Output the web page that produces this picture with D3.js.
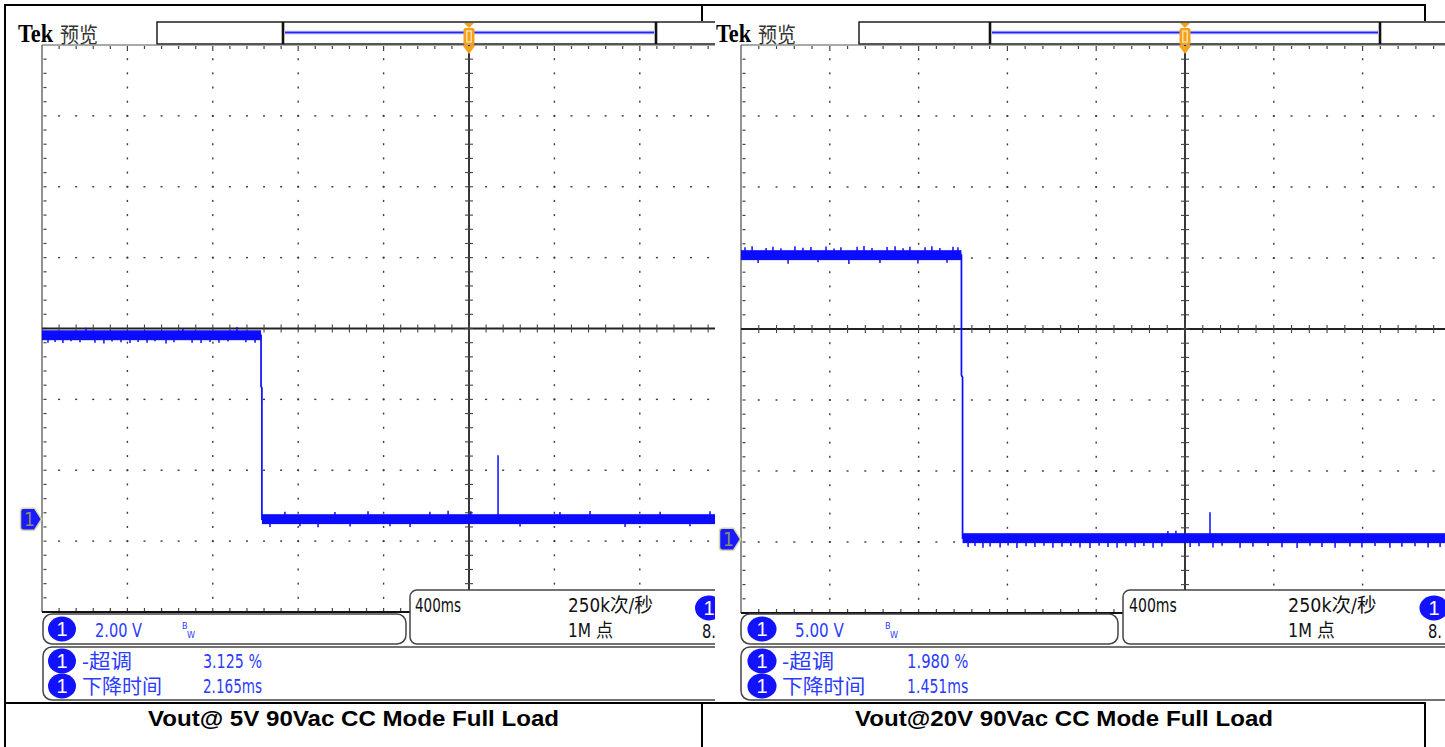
<!DOCTYPE html>
<html>
<head>
<meta charset="utf-8">
<script src="https://cdn.jsdelivr.net/npm/d3@7/dist/d3.min.js"></script>
<style>
  html, body { margin: 0; padding: 0; background: #fff; }
  svg { display: block; }
</style>
</head>
<body>
<svg id="chart" width="1445" height="747"></svg>
<script>
// ---- acquisition settings ----
const timePerDiv = 0.4;                  // 400 ms/div
const voltsPerDiv = [2.0, 5.0];          // CH1 scale for the 5 V and 20 V runs
const groundOffsetDiv = [-2.69, -2.96];  // CH1 position, divisions from screen centre
const rippleHalf = [0.14, 0.35];         // half-width of the noise band on the trace (V)

// ---- 5 V output: trace vertices (s, V) ----
const t5 = [-2.0, -0.974, -0.974, -0.970, -0.970, 2.0];
const v5 = [5.19, 5.19, 3.75, 3.70, 0.0, 0.0];
// 5 V output: noise spikes (s, peak V)
const g5t = [-1.972, -1.939, -1.902, -1.864, -1.822, -1.794, -1.752, -1.710, -1.672, -1.630,
             -1.588, -1.550, -1.508, -1.471, -1.419, -1.382, -1.340, -1.297, -1.255, -1.213,
             -1.171, -1.129, -1.087, -1.045, -1.002,
             -0.932, -0.862, -0.792, -0.707, -0.628, -0.557, -0.473, -0.370, -0.276, -0.183,
             -0.098, 0.009, 0.136, 0.239, 0.426, 0.567, 0.731, 0.895, 1.035, 1.129];
const g5v = [4.98, 5.00, 4.97, 5.02, 4.99, 5.40, 4.98, 4.96, 5.01, 4.99,
             4.97, 5.00, 4.98, 5.02, 4.96, 4.99, 5.38, 4.98, 4.97, 5.00,
             4.98, 5.01, 5.42, 4.99, 4.98,
             -0.22, 0.21, -0.20, -0.23, 0.20, -0.21, 0.22, -0.20, -0.22, 0.21,
             0.24, 0.22, 1.80, -0.21, 0.20, 0.23, -0.22, 0.21, -0.20, 0.22];

// ---- 20 V output: trace vertices (s, V) ----
const t20 = [-2.0, -1.007, -1.007, -1.002, -1.002, 2.0];
const v20 = [20.0, 20.0, 11.55, 11.40, 0.07, 0.07];
// 20 V output: noise spikes (s, peak V)
const g20t = [-1.982, -1.950, -1.923, -1.887, -1.856, -1.820, -1.788, -1.757, -1.721, -1.685,
              -1.653, -1.617, -1.581, -1.550, -1.514, -1.477, -1.446, -1.410, -1.374, -1.342,
              -1.306, -1.270, -1.239, -1.203, -1.171, -1.140, -1.104, -1.072, -1.045, -1.023,
              -0.977, -0.946, -0.910, -0.878, -0.833, -0.797, -0.757, -0.716, -0.676, -0.635,
              -0.595, -0.554, -0.514, -0.473, -0.428, -0.387, -0.347, -0.306, -0.266, -0.225,
              -0.185, -0.144, -0.104, -0.077, -0.041, 0.023, 0.063, 0.126, 0.167, 0.248,
              0.306, 0.374, 0.437, 0.505, 0.563, 0.617, 0.676, 0.743, 0.797, 0.856,
              0.923, 0.977, 1.036, 1.095, 1.149, 0.1126];
const g20v = [20.55, 20.62, 19.45, 20.50, 20.60, 20.48, 19.40, 20.63, 20.52, 20.58,
              19.50, 20.61, 20.47, 20.55, 19.38, 20.60, 20.64, 20.50, 19.45, 20.57,
              20.62, 20.49, 20.60, 19.42, 20.55, 20.63, 20.51, 19.47, 20.60, 20.56,
              -0.55, -0.48, -0.60, -0.52, -0.58, -0.45, -0.62, -0.50, -0.56, -0.47,
              -0.60, -0.53, -0.49, -0.58, -0.62, -0.46, -0.55, -0.60, -0.50, -0.57,
              -0.48, -0.61, -0.52, 0.57, 0.60, -0.55, -0.50, -0.58, -0.46, -0.60,
              -0.53, -0.49, -0.57, -0.62, -0.47, -0.55, -0.60, -0.51, -0.58, -0.48,
              -0.61, -0.54, -0.50, -0.59, -0.56, 1.90];

// ---- labels ----
const captions = ["Vout@ 5V 90Vac CC Mode Full Load", "Vout@20V 90Vac CC Mode Full Load"];
const scaleLabels = ["2.00 V", "5.00 V"];
const measNames = ["-超调", "下降时间"];
const measValues = [["3.125 %", "2.165ms"], ["1.980 %", "1.451ms"]];
const timeLabel = "400ms";
const rateLabel = "250k次/秒";
const recordLabel = "1M 点";

// ---- screen layout of the two captures ----
const layouts = [
  { clip: [7, 715], sx: 1.0, tekX: 18, hdrX: 157, seg: [283, 656],
    gridLeft: 42, divW: 85.4, gridTop: 45, gridBottom: 612,
    chBox: [43, 406], tbX: 410, circX: 62, scaleX: 95, bwX: 182,
    nameX: 82, valX: 203, tbTextX: 415, rateX: 568, tbCircX: 709, eightX: 702 },
  { clip: [715, 1445], sx: 1.04, tekX: 716, hdrX: 859, seg: [990, 1380],
    gridLeft: 741, divW: 88.8, gridTop: 45, gridBottom: 613,
    chBox: [741, 1118], tbX: 1123, circX: 762, scaleX: 795, bwX: 885,
    nameX: 782, valX: 907, tbTextX: 1129, rateX: 1288, tbCircX: 1434, eightX: 1428 }
];

const svg = d3.select("#chart");
const defs = svg.append("defs");
const UI_FONT = "'Liberation Sans Narrow','DejaVu Sans Condensed','Liberation Sans','Noto Sans CJK SC',sans-serif";
const CJK_FONT = "'Noto Sans CJK SC','Liberation Sans',sans-serif";
const TRACE = "#0c0cff";
const TXT_BLUE = "#2b3cff";
const ORANGE = "#f7a11a";

svg.append("rect").attr("width", 1445).attr("height", 747).attr("fill", "#fff");

function label(g, txt, x, y, size, width, opts = {}) {
  const t = g.append("text")
    .attr("x", x).attr("y", y)
    .attr("font-family", opts.family || UI_FONT)
    .attr("font-size", size)
    .attr("fill", opts.fill || "#111")
    .text(txt);
  if (opts.weight) t.attr("font-weight", opts.weight);
  if (opts.anchor) t.attr("text-anchor", opts.anchor);
  if (width) t.attr("textLength", width).attr("lengthAdjust", "spacingAndGlyphs");
  return t;
}

function badge(g, cx, cy, sx) {
  g.append("ellipse").attr("cx", cx).attr("cy", cy).attr("rx", 14 * sx).attr("ry", 12.5)
    .attr("fill", "#1212ff");
  label(g, "1", cx, cy + 7, 20, null, { fill: "#fff", anchor: "middle", family: "'Liberation Sans Narrow','Liberation Sans',sans-serif" });
}

function drawPanel(k, tArr, vArr, gT, gV) {
  const L = layouts[k];
  const sx = L.sx;
  defs.append("clipPath").attr("id", "img" + k)
    .append("rect").attr("x", L.clip[0]).attr("y", 21)
    .attr("width", L.clip[1] - L.clip[0]).attr("height", 681);
  const g = svg.append("g").attr("clip-path", `url(#img${k})`);
  g.append("rect").attr("x", L.clip[0]).attr("y", 21)
    .attr("width", L.clip[1] - L.clip[0]).attr("height", 681).attr("fill", "#fff");

  const gridRight = L.gridLeft + 10 * L.divW;
  const x = d3.scaleLinear().domain([-5 * timePerDiv, 5 * timePerDiv]).range([L.gridLeft, gridRight]);
  const vpd = voltsPerDiv[k], off = groundOffsetDiv[k];
  const y = d3.scaleLinear().domain([(-4 - off) * vpd, (4 - off) * vpd]).range([L.gridBottom, L.gridTop]);
  const dx = d3.scaleLinear().domain([0, 10]).range([L.gridLeft, gridRight]);
  const dy = d3.scaleLinear().domain([0, 8]).range([L.gridTop, L.gridBottom]);

  // ---- header: brand, record view and trigger position ----
  label(g, "Tek", L.tekX, 42, 26, 35, { family: "'Liberation Serif',serif", weight: "bold", fill: "#000" });
  label(g, "预览", L.tekX + 42, 42, 21, 38, { family: CJK_FONT, fill: "#333" });
  g.append("rect").attr("x", L.hdrX).attr("y", 22).attr("width", 1200).attr("height", 22)
    .attr("fill", "#fff").attr("stroke", "#111").attr("stroke-width", 1.4);
  g.append("line").attr("x1", L.seg[0] + 2).attr("x2", L.seg[1] - 2).attr("y1", 32.5).attr("y2", 32.5)
    .attr("stroke", "#a8a8ff").attr("stroke-width", 3.5);
  g.append("line").attr("x1", L.seg[0] + 2).attr("x2", L.seg[1] - 2).attr("y1", 32.5).attr("y2", 32.5)
    .attr("stroke", "#2424ff").attr("stroke-width", 1.6);
  L.seg.forEach(sxp => {
    g.append("line").attr("x1", sxp).attr("x2", sxp).attr("y1", 22).attr("y2", 44)
      .attr("stroke", "#111").attr("stroke-width", 2.6);
  });

  // ---- graticule ----
  const grid = g.append("g");
  grid.append("line").attr("x1", L.gridLeft).attr("x2", L.gridLeft).attr("y1", L.gridTop).attr("y2", L.gridBottom)
    .attr("stroke", "#777").attr("stroke-width", 1.6);
  grid.append("line").attr("x1", L.gridLeft).attr("x2", gridRight).attr("y1", L.gridTop).attr("y2", L.gridTop)
    .attr("stroke", "#555").attr("stroke-width", 1.2);
  grid.append("line").attr("x1", L.gridLeft).attr("x2", gridRight).attr("y1", L.gridBottom).attr("y2", L.gridBottom)
    .attr("stroke", "#111").attr("stroke-width", 2.2);
  const hMinor = d3.range(1, 50).map(i => i / 5);
  const vMinor = d3.range(1, 40).map(i => i / 5);
  hMinor.forEach(d => {
    grid.append("rect").attr("x", dx(d) - 0.6).attr("y", L.gridTop + 1).attr("width", 1.2).attr("height", d % 1 === 0 ? 5 : 3).attr("fill", "#444");
    grid.append("rect").attr("x", dx(d) - 0.6).attr("y", L.gridBottom - 4).attr("width", 1.2).attr("height", 3).attr("fill", "#444");
  });
  vMinor.forEach(d => {
    grid.append("rect").attr("x", L.gridLeft + 1.5).attr("y", dy(d) - 0.6).attr("width", 3).attr("height", 1.2).attr("fill", "#444");
  });
  // dotted division lines
  d3.range(1, 10).filter(i => i !== 5).forEach(i => {
    vMinor.forEach(d => {
      grid.append("rect").attr("x", dx(i) - 0.7).attr("y", dy(d) - 1).attr("width", 1.4).attr("height", 2).attr("fill", "#3a3a3a");
    });
  });
  d3.range(1, 8).filter(j => j !== 4).forEach(j => {
    hMinor.forEach(d => {
      grid.append("rect").attr("x", dx(d) - 1).attr("y", dy(j) - 0.7).attr("width", 2).attr("height", 1.4).attr("fill", "#3a3a3a");
    });
  });
  // centre cross with minor ticks
  grid.append("line").attr("x1", L.gridLeft).attr("x2", gridRight).attr("y1", dy(4)).attr("y2", dy(4))
    .attr("stroke", "#222").attr("stroke-width", 1.8);
  grid.append("line").attr("x1", dx(5)).attr("x2", dx(5)).attr("y1", L.gridTop).attr("y2", L.gridBottom)
    .attr("stroke", "#222").attr("stroke-width", 1.8);
  hMinor.forEach(d => {
    grid.append("line").attr("x1", dx(d)).attr("x2", dx(d)).attr("y1", dy(4) - 4).attr("y2", dy(4) + 4)
      .attr("stroke", "#444").attr("stroke-width", 1.1);
  });
  vMinor.forEach(d => {
    grid.append("line").attr("x1", dx(5) - 4).attr("x2", dx(5) + 4).attr("y1", dy(d)).attr("y2", dy(d))
      .attr("stroke", "#444").attr("stroke-width", 1.1);
  });

  // trigger marker
  const cx = x(0);
  g.append("path").attr("d", `M${cx - 5},23 L${cx + 5},23 L${cx},28 Z`).attr("fill", ORANGE);
  g.append("rect").attr("x", cx - 5.5).attr("y", 28).attr("width", 11).attr("height", 17).attr("rx", 2).attr("fill", ORANGE);
  g.append("rect").attr("x", cx - 2.2).attr("y", 31).attr("width", 4.4).attr("height", 11)
    .attr("fill", "none").attr("stroke", "#fff2d8").attr("stroke-width", 1.1);
  g.append("path").attr("d", `M${cx - 6},46 L${cx + 6},46 L${cx},54 Z`).attr("fill", ORANGE);

  // ---- waveform ----
  defs.append("clipPath").attr("id", "grid" + k)
    .append("rect").attr("x", L.gridLeft).attr("y", L.gridTop)
    .attr("width", gridRight - L.gridLeft).attr("height", L.gridBottom - L.gridTop);
  const wave = g.append("g").attr("clip-path", `url(#grid${k})`);
  const r = rippleHalf[k];
  // noise band on every flat stretch of the trace
  d3.range(tArr.length - 1).forEach(i => {
    if (vArr[i] === vArr[i + 1] && tArr[i + 1] > tArr[i]) {
      wave.append("rect")
        .attr("x", x(tArr[i])).attr("y", y(vArr[i] + r))
        .attr("width", x(tArr[i + 1]) - x(tArr[i])).attr("height", y(vArr[i] - r) - y(vArr[i] + r))
        .attr("fill", TRACE);
    }
  });
  const pts = tArr.map((t, i) => [t, vArr[i]]);
  wave.append("path")
    .attr("d", d3.line().x(d => x(d[0])).y(d => y(d[1]))(pts))
    .attr("fill", "none").attr("stroke", TRACE).attr("stroke-width", 1.7);
  gT.forEach((t, j) => {
    const base = vArr[d3.bisectRight(tArr, t) - 1];
    wave.append("line")
      .attr("x1", x(t)).attr("x2", x(t))
      .attr("y1", y(base)).attr("y2", y(gV[j]))
      .attr("stroke", TRACE).attr("stroke-width", 1.5);
  });

  // ground reference marker
  const tx = L.gridLeft - 0.5, ty = y(0);
  g.append("path")
    .attr("d", `M${tx},${ty} L${tx - 7},${ty - 11} L${tx - 18},${ty - 11} Q${tx - 21},${ty - 11} ${tx - 21},${ty - 8} L${tx - 21},${ty + 8} Q${tx - 21},${ty + 11} ${tx - 18},${ty + 11} L${tx - 7},${ty + 11} Z`)
    .attr("fill", "#1a1aff").attr("stroke", "#d8d8a4").attr("stroke-width", 1.5);
  label(g, "1", tx - 12, ty + 7, 19, null, { fill: "#8c8c70", anchor: "middle" });

  // ---- horizontal / acquisition readout ----
  g.append("rect").attr("x", L.tbX).attr("y", 590).attr("width", 900).attr("height", 54).attr("rx", 7)
    .attr("fill", "#fff").attr("stroke", "#444").attr("stroke-width", 1.5);
  label(g, timeLabel, L.tbTextX, 612, 19, 46 * sx);
  label(g, rateLabel, L.rateX, 612, 19, 85 * sx);
  label(g, recordLabel, L.rateX, 637, 19, 45 * sx);
  badge(g, L.tbCircX, 608, sx);
  label(g, "8.", L.eightX, 638, 19, 14);

  // ---- channel readout ----
  g.append("rect").attr("x", L.chBox[0]).attr("y", 614).attr("width", L.chBox[1] - L.chBox[0]).attr("height", 30).attr("rx", 9)
    .attr("fill", "#fff").attr("stroke", "#444").attr("stroke-width", 1.5);
  badge(g, L.circX, 629, sx);
  label(g, scaleLabels[k], L.scaleX, 637, 20, 47 * sx, { fill: TXT_BLUE });
  label(g, "B", L.bwX, 629, 9, null, { fill: TXT_BLUE });
  label(g, "W", L.bwX + 5, 638, 9, null, { fill: TXT_BLUE });

  // ---- measurement readout ----
  g.append("rect").attr("x", L.chBox[0]).attr("y", 647).attr("width", 1000).attr("height", 53).attr("rx", 9)
    .attr("fill", "#fff").attr("stroke", "#444").attr("stroke-width", 1.5);
  [661, 686].forEach((cy, i) => {
    badge(g, L.circX, cy, sx);
    label(g, measNames[i], L.nameX, cy + 8, 20, (i === 0 ? 50 : 80) * sx, { fill: TXT_BLUE });
    label(g, measValues[k][i], L.valX, cy + 7, 20, 59 * sx, { fill: TXT_BLUE });
  });
}

drawPanel(0, t5, v5, g5t, g5v);
drawPanel(1, t20, v20, g20t, g20v);

// ---- document table and captions ----
const tbl = svg.append("g").attr("stroke", "#000").attr("stroke-width", 2);
tbl.append("line").attr("x1", 5).attr("x2", 1426).attr("y1", 5).attr("y2", 5);
tbl.append("line").attr("x1", 5).attr("x2", 5).attr("y1", 4).attr("y2", 747);
[[702, 5, 21], [1425, 5, 21], [702, 703, 747], [1425, 703, 747]].forEach(([lx, a, b]) => {
  tbl.append("line").attr("x1", lx).attr("x2", lx).attr("y1", a).attr("y2", b);
});
tbl.append("line").attr("x1", 5).attr("x2", 1426).attr("y1", 703).attr("y2", 703);

[[353.5, 411], [1064, 418]].forEach(([cxp, w], i) => {
  label(svg, captions[i], cxp, 726, 22, w,
    { family: "'Liberation Sans',Arial,sans-serif", weight: "bold", fill: "#000", anchor: "middle" });
});
</script>
</body>
</html>
